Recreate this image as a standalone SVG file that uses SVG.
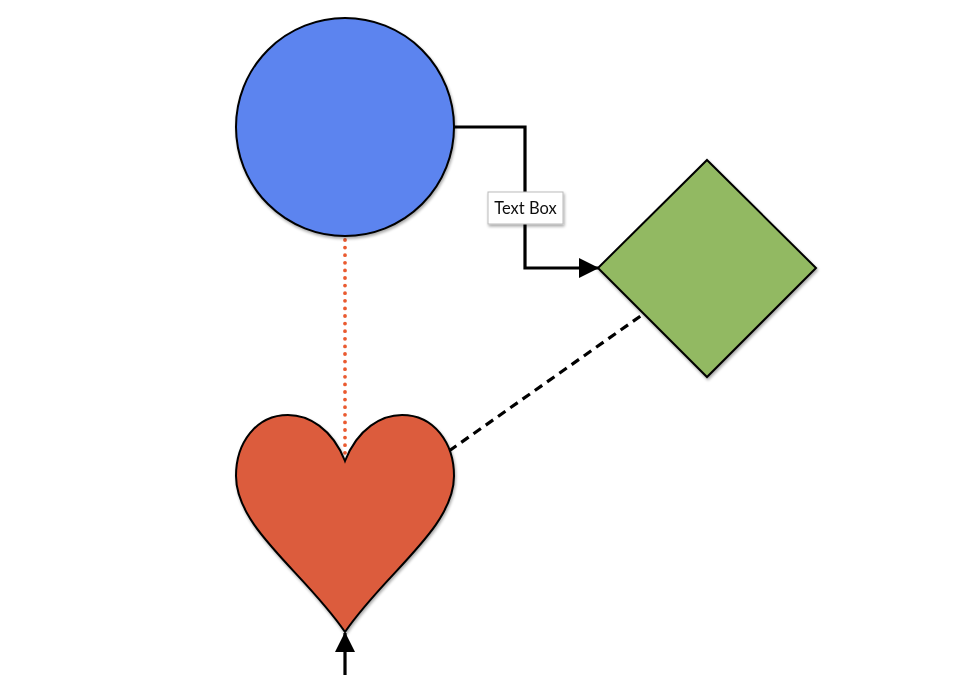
<svg xmlns="http://www.w3.org/2000/svg" width="975" height="675" viewBox="0 0 975 675">
<style>
.shape{stroke:#000;stroke-width:2}
.conn{fill:none;stroke:#000;stroke-width:3.2}
.label{font-family:Lato,"Open Sans",sans-serif;font-size:16.5px;fill:#111}
</style>
<defs>
<filter id="sh" x="-10%" y="-10%" width="130%" height="130%">
<feGaussianBlur in="SourceAlpha" stdDeviation="1.5"/>
<feOffset dx="1" dy="2" result="b"/>
<feComponentTransfer><feFuncA type="linear" slope="0.35"/></feComponentTransfer>
<feMerge><feMergeNode/><feMergeNode in="SourceGraphic"/></feMerge>
</filter>
<marker id="arr" markerWidth="20" markerHeight="20" refX="19" refY="10" orient="auto" markerUnits="userSpaceOnUse">
<path d="M0,0 L20,10 L0,20 Z" fill="#000"/>
</marker>
</defs>
<rect width="975" height="675" fill="#fff"/>
<g id="connectors">
<path class="conn" d="M454,127 H525 V268 H598" marker-end="url(#arr)"/>
<line x1="345" y1="240" x2="345" y2="455" stroke="#ea5a30" stroke-width="3.8" stroke-linecap="round" stroke-dasharray="0 7.6"/>
<line class="conn" x1="449" y1="451" x2="642" y2="315" stroke-width="4" stroke-dasharray="9 6"/>
<line class="conn" x1="345" y1="675" x2="345" y2="633" marker-end="url(#arr)"/>
</g>
<g id="circle" filter="url(#sh)">
<circle class="shape" cx="345" cy="127" r="109" fill="#5b84ef"/>
</g>
<g id="diamond" filter="url(#sh)">
<path class="shape" d="M707,160 L816,268 L707,377 L598,268 Z" fill="#92b962"/>
</g>
<g id="heart" filter="url(#sh)">
<path class="shape" d="M345,461 C358,428 382,415 402,415 C434,415 454,443 454,476 C454,528 385,573 345,632 C305,573 236,528 236,476 C236,443 256,415 288,415 C308,415 332,428 345,461 Z" fill="#dc5b3c"/>
</g>
<g id="textbox" filter="url(#sh)">
<rect x="488" y="192" width="75" height="32" fill="#fff" stroke="#bbb" stroke-width="1"/>
<text class="label" x="525.5" y="214" text-anchor="middle">Text Box</text>
</g>
</svg>
